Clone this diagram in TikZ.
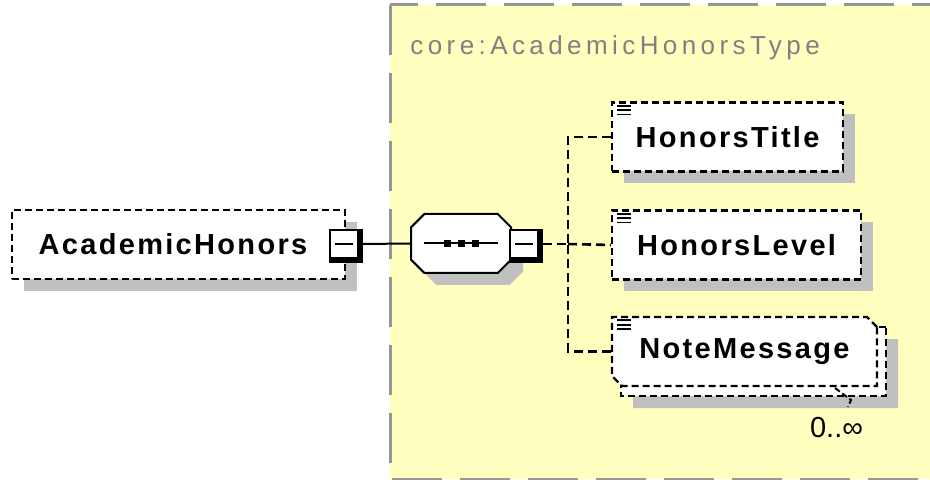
\documentclass[tikz,border=0pt]{standalone}
\usepackage{fontspec}
\setmainfont{Liberation Sans}
\usetikzlibrary{shapes.misc,shadows}
\definecolor{typefill}{RGB}{255,255,192}
\definecolor{typeline}{RGB}{150,150,150}
\definecolor{typetext}{RGB}{128,128,128}
\definecolor{shade}{RGB}{192,192,192}
\begin{document}
\begin{tikzpicture}[x=0.5pt,y=-0.5pt,
    typebox/.style={fill=typefill, draw=typeline, line width=1.5pt,
      dash pattern=on 25pt off 9pt},
    elem/.style={draw, fill=white, line width=1.1pt, dash pattern=on 3.5pt off 2pt,
      inner sep=0pt, minimum height=34.5pt,
      font=\fontsize{14.5}{17}\bfseries\addfontfeature{LetterSpace=8}},
    shad/.style={drop shadow={shadow xshift=6pt, shadow yshift=-6pt,
      fill=shade, opacity=1}},
    minus/.style={draw, fill=white, line width=1pt, minimum size=14pt, inner sep=0pt,
      path picture={\draw[line width=0.8pt]
        ([xshift=2.5pt]path picture bounding box.west) --
        ([xshift=-2.5pt]path picture bounding box.east);}},
    seqbox/.style={chamfered rectangle, chamfered rectangle xsep=7pt,
      chamfered rectangle ysep=7pt, draw, fill=white,
      line width=1pt, minimum width=50pt, minimum height=29.5pt},
    multi/.style={chamfered rectangle, chamfered rectangle xsep=2.5pt,
      chamfered rectangle ysep=2.5pt,
      chamfered rectangle corners={north east,south west},
      minimum width=132.5pt},
    conn/.style={line width=1.3pt, dash pattern=on 4.5pt off 2.5pt}]
  \useasboundingbox (0,0) rectangle (930,480);
  \clip (0,0) rectangle (930,480);
  % --- tipo complesso ---
  \draw[typebox] (390,5) rectangle (950,479);
  \node[anchor=base west, inner sep=0pt, text=typetext,
    font=\fontsize{13}{15}\selectfont\addfontfeature{LetterSpace=17}]
    (typename) at (410,55) {core:AcademicHonorsType};
  % --- elemento radice ---
  \node[elem, shad, minimum width=166.5pt] (root) at (178.5,244.5) {};
  \node (rootname) at (173,244.5) [font=\fontsize{14.5}{17}\bfseries\addfontfeature{LetterSpace=8}]
    {AcademicHonors};
  \node[minus] (rootminus) at (344,244) {};
  \draw[line width=2pt] ([xshift=1pt]rootminus.north east)
    |- ([yshift=-1pt]rootminus.south west);
  % --- sequenza ---
  \node[seqbox, shad] (seq) at (461,243.5) {};
  \draw[line width=1pt] ([xshift=7pt]seq.west) -- ([xshift=-7pt]seq.east);
  \foreach \dx in {-7,0,7}
    \fill ([xshift=\dx pt]seq.center) ++(-1.75pt,-1.75pt) rectangle ++(3.5pt,3.5pt);
  \node[minus] (seqminus) at (524,244) {};
  \draw[line width=2pt] ([xshift=1pt]seqminus.north east)
    |- ([yshift=-1pt]seqminus.south west);
  \draw[line width=1pt] ([xshift=2pt]rootminus.east) -- (seq.west);
  % --- figli ---
  \foreach \n/\t/\y/\w in {ttl/HonorsTitle/137/115.5, lvl/HonorsLevel/245/124.5}
    \node[elem, shad, minimum width=\w pt, anchor=west] (\n) at (611,\y) {\t};
  \node[elem, shad, multi] (notebk) at (753.5,361.5) {};
  \node[elem, multi] (note) at (744.5,351.5) {NoteMessage};
  \foreach \n in {ttl,lvl,note}
    \foreach \i in {2.2,4.4,6.6}
      \draw[line width=0.9pt] ([shift={(3pt,-\i pt)}]\n.north west) -- ++(7pt,0);
  % --- cardinalita ---
  \draw[line width=1pt, dash pattern=on 3pt off 1.5pt] (835,388) -- (851,400) -- (848,407);
  \node[anchor=base west, font=\fontsize{14.5}{17}\selectfont] (card) at (803,437) {0..∞};
  % --- connettori ---
  \coordinate (bus) at (568,244);
  \draw[conn] ([xshift=2pt]seqminus.east) -- (bus);
  \draw[conn] (ttl.west) -| (bus);
  \draw[conn] (note.west) -| (bus);
  \draw[conn] (bus) -- (lvl.west);
\end{tikzpicture}
\end{document}
